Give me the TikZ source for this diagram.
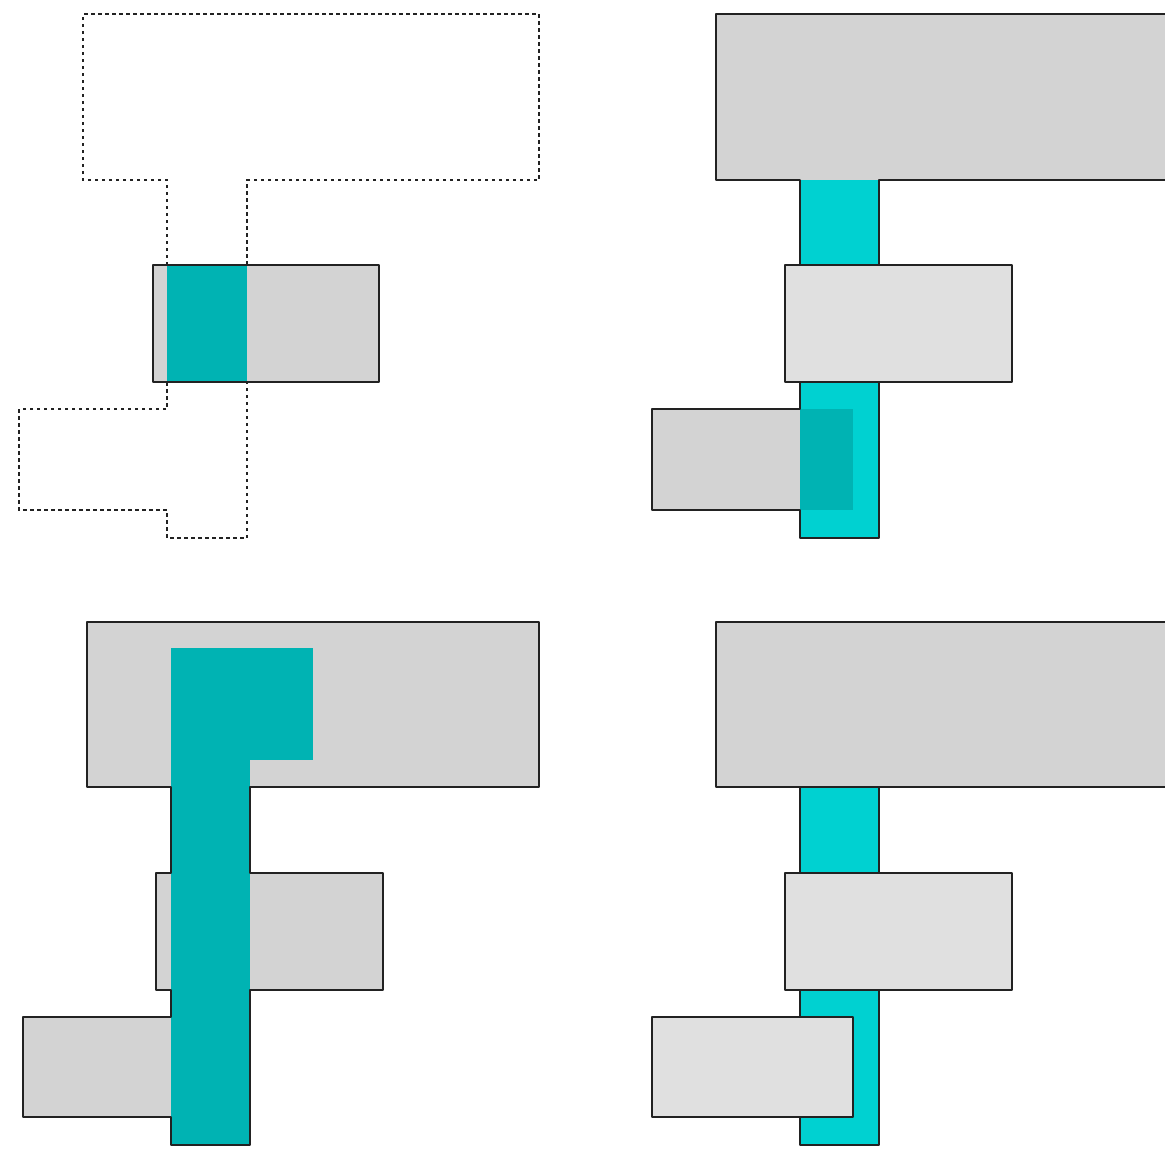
\documentclass[tikz,border=0pt]{standalone}
\definecolor{gr}{HTML}{D3D3D3}
\definecolor{lg}{HTML}{E0E0E0}
\definecolor{teal2}{HTML}{00B3B3}
\definecolor{cyan2}{HTML}{00D1D1}
\definecolor{ln}{HTML}{222222}
\begin{document}
\begin{tikzpicture}[x=1pt,y=-1pt,
  edge/.style={draw=ln,line width=1.9pt,line join=round},
  dashedge/.style={draw=ln,line width=1.9pt,dash pattern=on 3.5pt off 3.5pt},
  ]
\useasboundingbox (0,0) rectangle (1165,1152);
\clip (0,0) rectangle (1165,1152);
% ---------- panel 1 ----------
\fill[gr] (153,265) rectangle (379,382);
\fill[teal2] (167,265) rectangle (247,382);
\draw[edge] (153,265) rectangle (379,382);
\draw[dashedge] (167,265) -- (167,180) -- (83,180) -- (83,14) -- (539,14) -- (539,180) -- (247,180) -- (247,265);
\draw[dashedge] (167,382) -- (167,409) -- (19,409) -- (19,510) -- (167,510) -- (167,538) -- (247,538) -- (247,382);
% ---------- panel 2 ----------
\fill[gr] (716,14) rectangle (1180,180);
\fill[cyan2] (800,180) rectangle (879,538);
\fill[gr] (652,409) rectangle (800,510);
\fill[teal2] (800,409) rectangle (853,510);
\draw[edge] (1180,14) -- (716,14) -- (716,180) -- (800,180) -- (800,409) -- (652,409) -- (652,510) -- (800,510) -- (800,538) -- (879,538) -- (879,180) -- (1180,180);
\fill[lg] (785,265) rectangle (1012,382);
\draw[edge] (785,265) rectangle (1012,382);
% ---------- panel 3 ----------
\fill[gr] (87,622) rectangle (539,787);
\fill[gr] (156,873) rectangle (383,990);
\fill[gr] (23,1017) rectangle (171,1117);
\fill[teal2] (171,648) rectangle (250,1145);
\fill[teal2] (171,648) rectangle (313,760);
\draw[edge] (87,622) -- (539,622) -- (539,787) -- (250,787) -- (250,873) -- (383,873) -- (383,990) -- (250,990) -- (250,1145) -- (171,1145) -- (171,1117) -- (23,1117) -- (23,1017) -- (171,1017) -- (171,990) -- (156,990) -- (156,873) -- (171,873) -- (171,787) -- (87,787) -- cycle;
% ---------- panel 4 ----------
\fill[cyan2] (800,780) rectangle (879,1145);
\draw[edge] (800,787) -- (800,1145) -- (879,1145) -- (879,787);
\fill[gr] (716,622) rectangle (1180,787);
\draw[edge] (1180,622) -- (716,622) -- (716,787) -- (1180,787);
\fill[lg] (785,873) rectangle (1012,990);
\draw[edge] (785,873) rectangle (1012,990);
\fill[lg] (652,1017) rectangle (853,1117);
\draw[edge] (652,1017) rectangle (853,1117);
\end{tikzpicture}
\end{document}
